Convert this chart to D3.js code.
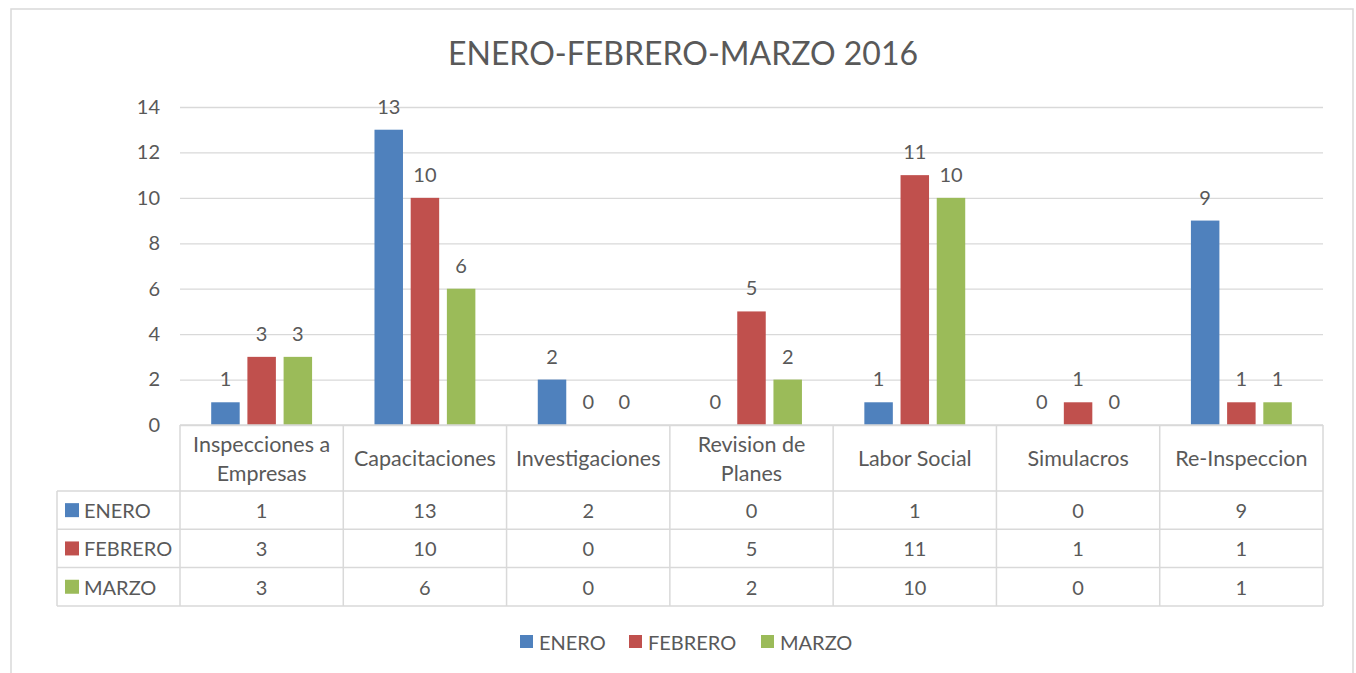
<!DOCTYPE html>
<html>
<head>
<meta charset="utf-8">
<script src="https://cdn.jsdelivr.net/npm/d3@7"></script>
<style>
  body { margin: 0; background: #fff; }
  svg { display: block; font-family: Lato, "Open Sans", sans-serif; }
</style>
</head>
<body>
<svg id="chart" width="1356" height="673"></svg>
<script>
// data
const categories = [["Inspecciones a", "Empresas"], ["Capacitaciones"], ["Investigaciones"],
  ["Revision de", "Planes"], ["Labor Social"], ["Simulacros"], ["Re-Inspeccion"]];
const seriesNames = ["ENERO", "FEBRERO", "MARZO"];
const enero = [1, 13, 2, 0, 1, 0, 9];
const febrero = [3, 10, 0, 5, 11, 1, 1];
const marzo = [3, 6, 0, 2, 10, 0, 1];
const yTicks = [0, 2, 4, 6, 8, 10, 12, 14];
const colors = ["#4f81bd", "#c0504d", "#9bbb59"];

const series = [enero, febrero, marzo];
const textColor = "#595959";
const lineColor = "#d9d9d9";

const svg = d3.select("#chart");

// chart frame
svg.append("rect")
  .attr("x", 11).attr("y", 9)
  .attr("width", 1342).attr("height", 680)
  .attr("fill", "none")
  .attr("stroke", lineColor)
  .attr("stroke-width", 1.5);

// title
svg.append("text")
  .attr("x", 683).attr("y", 65)
  .attr("text-anchor", "middle")
  .attr("font-size", 32)
  .attr("fill", textColor)
  .text("ENERO-FEBRERO-MARZO 2016");

const plotLeft = 180, plotRight = 1323, plotTop = 107, plotBottom = 425;

const x = d3.scaleBand()
  .domain(d3.range(categories.length))
  .range([plotLeft, plotRight]);

const xInner = d3.scaleBand()
  .domain(d3.range(seriesNames.length))
  .range([0, x.bandwidth()])
  .paddingInner(0.213)
  .paddingOuter(0.862);

const y = d3.scaleLinear().domain([0, 14]).range([plotBottom, plotTop]);

// y axis with gridlines
const yAxis = svg.append("g")
  .attr("transform", "translate(" + plotLeft + ",0)")
  .call(d3.axisLeft(y).tickValues(yTicks).tickSize(-(plotRight - plotLeft)).tickPadding(20));
yAxis.select(".domain").remove();
yAxis.selectAll(".tick line").attr("stroke", lineColor).attr("stroke-width", 1.3);
yAxis.selectAll(".tick text")
  .attr("font-size", 20)
  .attr("font-family", "Lato, sans-serif")
  .attr("fill", textColor);

// bars
const groups = svg.append("g").selectAll("g")
  .data(series)
  .join("g")
  .attr("fill", (d, i) => colors[i]);

groups.each(function(vals, si) {
  const g = d3.select(this);
  g.selectAll("rect")
    .data(vals)
    .join("rect")
    .attr("x", (d, ci) => x(ci) + xInner(si))
    .attr("y", d => y(d))
    .attr("width", xInner.bandwidth())
    .attr("height", d => y(0) - y(d));
  // data labels
  g.selectAll("text")
    .data(vals)
    .join("text")
    .attr("x", (d, ci) => x(ci) + xInner(si) + xInner.bandwidth() / 2)
    .attr("y", d => y(d) - 16)
    .attr("text-anchor", "middle")
    .attr("font-size", 20)
    .attr("fill", textColor)
    .text(d => d);
});

// data table
const tableLeft = 57;
const headerBottom = 491;
const rowH = 38.3;
const tableBottom = headerBottom + rowH * seriesNames.length;
const table = svg.append("g").attr("stroke", lineColor).attr("stroke-width", 1.5);

// horizontal lines
table.append("line").attr("x1", plotLeft).attr("x2", plotRight).attr("y1", plotBottom).attr("y2", plotBottom);
d3.range(seriesNames.length + 1).forEach(r => {
  const yy = headerBottom + r * rowH;
  table.append("line").attr("x1", tableLeft).attr("x2", plotRight).attr("y1", yy).attr("y2", yy);
});
// vertical lines
table.append("line").attr("x1", tableLeft).attr("x2", tableLeft).attr("y1", headerBottom).attr("y2", tableBottom);
d3.range(categories.length + 1).forEach(c => {
  const xx = plotLeft + c * x.step();
  table.append("line").attr("x1", xx).attr("x2", xx).attr("y1", plotBottom).attr("y2", tableBottom);
});

// header labels
const headerMid = (plotBottom + headerBottom) / 2;
categories.forEach((lines, ci) => {
  const t = svg.append("text")
    .attr("x", x(ci) + x.bandwidth() / 2)
    .attr("y", headerMid)
    .attr("text-anchor", "middle")
    .attr("dominant-baseline", "central")
    .attr("font-size", 21.5)
    .attr("fill", textColor);
  lines.forEach((ln, li) => {
    t.append("tspan")
      .attr("x", x(ci) + x.bandwidth() / 2)
      .attr("y", headerMid + (li - (lines.length - 1) / 2) * 29)
      .text(ln);
  });
});

// table rows
series.forEach((vals, si) => {
  const rowMid = headerBottom + si * rowH + rowH / 2;
  svg.append("rect")
    .attr("x", 65).attr("y", rowMid - 7)
    .attr("width", 14).attr("height", 14)
    .attr("fill", colors[si]);
  svg.append("text")
    .attr("x", 84).attr("y", rowMid)
    .attr("dominant-baseline", "central")
    .attr("font-size", 20)
    .attr("fill", textColor)
    .text(seriesNames[si]);
  vals.forEach((v, ci) => {
    svg.append("text")
      .attr("x", x(ci) + x.bandwidth() / 2)
      .attr("y", rowMid)
      .attr("text-anchor", "middle")
      .attr("dominant-baseline", "central")
      .attr("font-size", 20)
      .attr("fill", textColor)
      .text(v);
  });
});

// legend
const legendX = [520, 629, 761];
const legendY = 642;
seriesNames.forEach((name, si) => {
  svg.append("rect")
    .attr("x", legendX[si]).attr("y", legendY - 7)
    .attr("width", 13).attr("height", 13)
    .attr("fill", colors[si]);
  svg.append("text")
    .attr("x", legendX[si] + 19).attr("y", legendY)
    .attr("dominant-baseline", "central")
    .attr("font-size", 20)
    .attr("fill", textColor)
    .text(name);
});
</script>
</body>
</html>
